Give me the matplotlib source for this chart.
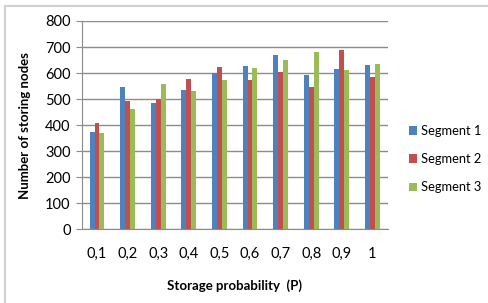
import matplotlib.pyplot as plt
from matplotlib.lines import Line2D
import numpy as np

# Dados
categorias = ['0,1', '0,2', '0,3', '0,4', '0,5', '0,6', '0,7', '0,8', '0,9', '1']
segmento_1 = [373, 548, 485, 536, 600, 628, 670, 593, 617, 631]
segmento_2 = [410, 493, 499, 577, 624, 575, 604, 548, 689, 585]
segmento_3 = [368, 463, 558, 531, 573, 621, 652, 681, 610, 635]
nomes = ['Segment 1', 'Segment 2', 'Segment 3']
cores = ['#4F81BD', '#C0504D', '#9BBB59']

plt.rcParams['font.family'] = ['Lato', 'DejaVu Sans']

fig = plt.figure(figsize=(4.89, 3.03), dpi=100)
ax = fig.add_axes([81.7 / 489, 1 - 229.3 / 303, (387.7 - 81.7) / 489, (229.3 - 21) / 303])

x = np.arange(len(categorias))
largura = 0.16
for i, (serie, nome, cor) in enumerate(zip([segmento_1, segmento_2, segmento_3], nomes, cores)):
    ax.bar(x + (i - 1) * largura, serie, largura, color=cor, label=nome, zorder=3)

ax.set_xlim(-0.5, len(categorias) - 0.5)
ax.set_ylim(0, 800)
ax.set_yticks(range(0, 801, 100))
ax.set_xticks(x)
ax.set_xticklabels(categorias)
ax.yaxis.grid(True, color='#8C8C8C', linewidth=1, zorder=0)
for lado in ['top', 'right']:
    ax.spines[lado].set_visible(False)
ax.spines['left'].set_color('#8C8C8C')
ax.spines['bottom'].set_color('#8C8C8C')
ax.tick_params(axis='y', length=4, color='#8C8C8C', labelsize=10.5, pad=4)
ax.tick_params(axis='x', length=0, labelsize=10.5, pad=13)
ax.set_ylabel('Number of storing nodes', fontsize=9.5, fontweight='bold', labelpad=10)
ax.set_xlabel('Storage probability  (P)', fontsize=9.5, fontweight='bold', labelpad=13)

ax.legend(loc='upper left', bbox_to_anchor=(409 / 489, 1 - 125 / 303), bbox_transform=fig.transFigure,
          frameon=False, fontsize=9.3, handlelength=0.6, handleheight=0.6,
          handletextpad=0.35, labelspacing=1.25, borderpad=0, borderaxespad=0)

# moldura cinza da área do gráfico
fig.add_artist(Line2D([4.5 / 489, 4.5 / 489], [0, 1 - 5.5 / 303], color='#D0D0D0', linewidth=1.5))
fig.add_artist(Line2D([4.5 / 489, 1], [1 - 5.5 / 303, 1 - 5.5 / 303], color='#D0D0D0', linewidth=1.5))

plt.savefig('out.png', dpi=100)
plt.close()
